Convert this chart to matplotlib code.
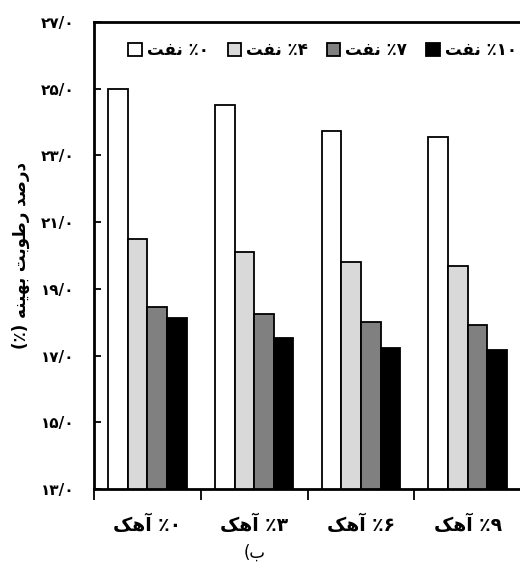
import numpy as np
import matplotlib.pyplot as plt
from matplotlib.patches import Patch

# data (optimum moisture %, per oil % series, per lime % group)
lime = ['۰', '۳', '۶', '۹']
oil = ['۰', '۴', '۷', '۱۰']
oil_0 = [25.0, 24.52, 23.72, 23.56]
oil_4 = [20.5, 20.1, 19.8, 19.67]
oil_7 = [18.45, 18.24, 17.99, 17.9]
oil_10 = [18.11, 17.51, 17.21, 17.15]
yticks = [13, 15, 17, 19, 21, 23, 25, 27]

# matplotlib does no arabic shaping, so words are in presentation forms, visual order
ahak = '\uFB8F\uFEEB\uFE81'          # آهک
naft = '\uFE96\uFED4\uFEE7'          # نفت
darsad = '\uFEAA\uFEBB\uFEAD\uFEA9'  # درصد
rotubat = '\uFE96\uFE91\uFEEE\uFEC3\uFEAD'  # رطوبت
behine = '\uFEEA\uFEE8\uFEF4\uFEEC\uFE91'   # بهینه
pct = '\u066A'

fa = str.maketrans('0123456789', '۰۱۲۳۴۵۶۷۸۹')

plt.rcParams['font.family'] = ['DejaVu Sans']

series = [oil_0, oil_4, oil_7, oil_10]
colors = ['white', '#d9d9d9', '#808080', 'black']

fig = plt.figure(figsize=(5.2, 5.65), dpi=100)
ax = fig.add_axes([0.181, 0.1345, 0.821, 0.827])

x = np.arange(len(lime))
w = 0.184
for i, vals in enumerate(series):
    ax.bar(x + (i - 1.5) * w, vals, w, color=colors[i], edgecolor='black', linewidth=1.3, zorder=2)

ax.set_xlim(-0.5, 3.5)
ax.set_ylim(13, 27)
ax.set_yticks(yticks)
ax.set_yticklabels([str(t).translate(fa) + '/۰' for t in yticks], fontsize=11, fontweight='bold')
ax.tick_params(axis='y', direction='in', length=5, width=1.3, pad=14)

ax.set_xticks(x)
ax.set_xticklabels([ahak + ' ' + pct + l for l in lime], fontsize=13.5, fontweight='bold')
ax.set_xticks(np.arange(-0.5, 4.0, 1.0), minor=True)
ax.tick_params(axis='x', which='major', length=0, pad=19)
ax.tick_params(axis='x', which='minor', direction='out', length=8, width=1.3)

for s in ['left', 'bottom', 'top']:
    ax.spines[s].set_linewidth(2)
ax.spines['right'].set_color('#cccccc')

ylab = '(' + pct + ') ' + behine + ' ' + rotubat + ' ' + darsad
ax.set_ylabel(ylab, fontsize=12, fontweight='bold')
ax.yaxis.set_label_coords(-0.15, 0.5)

handles = [Patch(facecolor=colors[i], edgecolor='black', linewidth=1.3) for i in range(4)]
labels = [naft + ' ' + pct + o for o in oil]
ax.legend(handles, labels, loc='upper center', bbox_to_anchor=(0.535, 0.99), ncol=4, frameon=False,
          prop={'weight': 'bold', 'size': 12}, handlelength=0.8, handleheight=0.8,
          handletextpad=0.3, columnspacing=1.15)

fig.text(0.49, 0.022, '(' + '\uFE8F', fontsize=12, ha='center', va='center')

fig.savefig('out.png', dpi=100)
